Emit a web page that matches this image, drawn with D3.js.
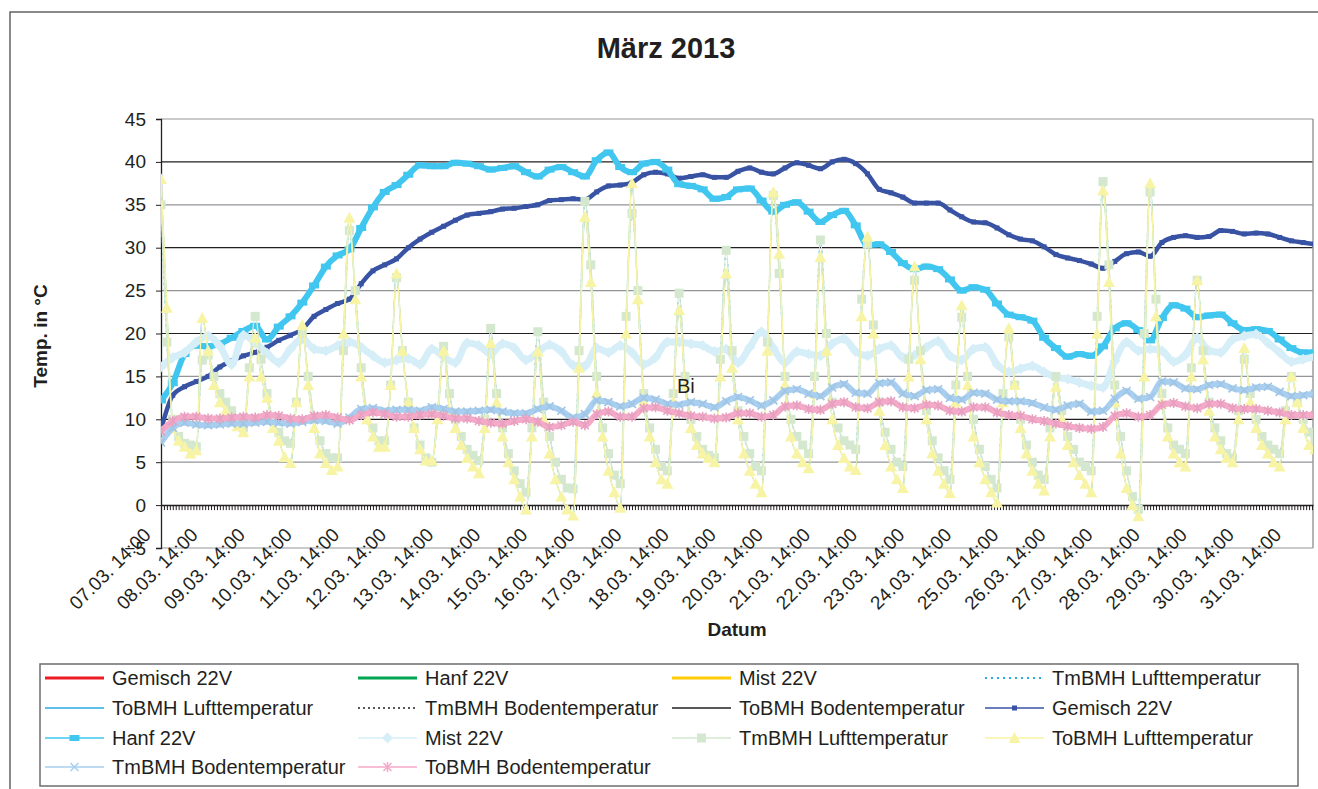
<!DOCTYPE html>
<html><head><meta charset="utf-8">
<script src="https://cdn.jsdelivr.net/npm/d3@7"></script>
<style>
body{margin:0;background:#fff}
svg{display:block}
text{font-family:"Liberation Sans",Arial,sans-serif;fill:#231f20}
</style>
</head><body>
<svg id="c" width="1318" height="789"></svg>
<script>
// ---------- data ----------
const chartTitle = "März 2013";
const dayLabels = ["07.03. 14:00","08.03. 14:00","09.03. 14:00","10.03. 14:00","11.03. 14:00","12.03. 14:00","13.03. 14:00","14.03. 14:00","15.03. 14:00","16.03. 14:00","17.03. 14:00","18.03. 14:00","19.03. 14:00","20.03. 14:00","21.03. 14:00","22.03. 14:00","23.03. 14:00","24.03. 14:00","25.03. 14:00","26.03. 14:00","27.03. 14:00","28.03. 14:00","29.03. 14:00","30.03. 14:00","31.03. 14:00"];
const yTicks = [-5,0,5,10,15,20,25,30,35,40,45];
const hoursPerDay = 24;
const spanHours = 587;          // 07.03. 14:00 to ~01.04. 01:00
const minorTickHours = 1.5;     // sampling interval of the logger
const smoothStepHours = 6;      // interval of the values read below
const airStepHours = 3;

// 6-hourly readings from 07.03. 14:00
const gemisch = [8.8,12.8,13.8,14.4, 15.0,16.1,16.8,17.4, 17.8,18.4,19.2,19.8, 20.5,22.0,22.8,23.5,
 24.0,25.8,27.3,28.0, 28.7,30.0,31.0,31.8, 32.5,33.2,33.8,34.0, 34.2,34.5,34.6,34.8,
 35.0,35.5,35.6,35.7, 35.6,36.5,37.2,37.3, 37.6,38.5,38.8,38.6, 38.1,38.3,38.5,38.2,
 38.2,38.9,39.3,38.8, 38.6,39.3,39.9,39.6, 39.2,40.0,40.3,39.8, 38.6,36.8,36.4,35.9,
 35.2,35.2,35.2,34.4, 33.6,33.0,32.9,32.3, 31.5,31.0,30.8,30.1, 29.2,28.8,28.5,28.1,
 27.6,28.4,29.3,29.5, 29.0,30.6,31.2,31.4, 31.2,31.3,32.0,31.9, 31.6,31.7,31.6,31.2,
 30.8,30.6,30.4];
const hanf = [12.2,14.2,17.6,18.6, 18.5,18.8,19.5,20.3, 20.9,19.3,20.8,22.0, 23.6,25.6,27.8,29.1,
 29.8,32.3,34.7,36.5, 37.3,38.5,39.6,39.5, 39.5,39.9,39.8,39.5, 39.1,39.3,39.5,38.8,
 38.3,39.1,39.4,38.8, 38.3,40.2,41.1,39.4, 38.8,39.8,40.0,39.1, 37.4,37.2,36.8,35.7,
 35.9,36.8,36.9,35.5, 34.2,35.0,35.3,34.2, 33.0,33.8,34.3,32.6, 30.3,30.4,29.5,28.2,
 27.5,27.8,27.5,26.3, 25.0,25.4,25.1,23.5, 22.2,21.9,21.5,19.5, 18.3,17.3,17.6,17.4,
 18.5,20.6,21.2,20.4, 19.2,21.8,23.3,22.9, 21.9,22.1,22.2,21.2, 20.4,20.5,20.3,19.3,
 18.3,17.8,17.8];
const mist = [16.1,17.2,17.8,19.0, 19.7,18.5,16.4,19.8, 18.9,17.7,16.6,18.2, 19.4,18.2,18.0,18.6,
 19.0,18.4,17.4,16.6, 16.9,17.1,16.4,18.2, 17.3,16.6,18.9,18.6, 17.6,18.8,18.3,16.9,
 17.8,18.7,17.9,16.3, 16.2,18.3,17.8,18.6, 17.8,16.4,17.2,19.0, 19.0,18.8,18.6,17.9,
 18.2,16.6,18.4,20.2, 18.3,16.6,17.9,17.6, 17.4,18.8,19.4,17.9, 17.4,18.2,18.6,17.2,
 17.5,18.4,19.1,17.4, 16.9,18.2,18.4,16.4, 15.5,15.9,16.2,15.5, 14.9,14.7,14.3,13.9,
 13.7,16.8,19.0,18.0, 18.2,18.0,16.7,17.5, 19.5,18.0,17.8,19.3, 19.7,19.9,18.9,17.8,
 16.7,17.0,17.3];
const tmBoden = [7.3,9.0,9.6,9.4, 9.3,9.4,9.5,9.5, 9.6,9.7,9.6,9.5, 9.7,9.9,9.8,9.5,
 10.2,11.2,11.3,11.0, 11.1,11.1,11.0,11.4, 11.2,10.9,10.9,11.0, 11.1,10.9,10.7,10.7,
 11.2,11.5,11.0,10.2, 10.6,12.2,12.0,11.5, 11.8,12.5,12.3,11.8, 11.7,12.0,11.8,11.4,
 12.1,12.6,12.2,11.6, 12.2,13.3,13.5,13.0, 12.7,13.7,14.1,13.1, 13.0,14.2,14.3,13.0,
 12.7,13.4,13.5,12.5, 12.3,13.1,13.0,12.3, 12.1,12.1,11.9,11.4, 11.1,11.6,11.8,10.9,
 11.0,12.4,13.3,12.4, 12.6,14.4,14.3,13.6, 13.5,14.0,14.1,13.6, 13.4,13.7,13.8,13.2,
 12.7,12.8,13.0];
const toBoden = [8.6,9.8,10.3,10.3, 10.1,10.1,10.2,10.3, 10.2,10.5,10.4,10.1, 10.0,10.4,10.5,10.2,
 9.9,10.5,10.8,10.6, 10.3,10.3,10.5,10.6, 10.4,10.1,10.1,9.8, 9.6,9.5,9.8,10.0,
 9.7,9.1,9.3,9.7, 9.3,10.6,10.9,10.3, 10.3,11.3,11.4,11.0, 10.7,10.4,10.3,10.1,
 10.2,10.7,10.7,10.3, 10.5,11.5,11.6,11.2, 11.1,11.8,12.0,11.4, 11.3,12.0,12.1,11.4,
 11.3,11.7,11.6,11.0, 10.9,11.4,11.4,10.8, 10.5,10.4,10.0,9.8, 9.5,9.2,9.0,8.9,
 9.1,10.4,10.7,10.3, 10.5,11.7,11.9,11.5, 11.3,11.8,11.8,11.3, 11.2,11.2,11.0,10.8,
 10.5,10.5,10.5];
// 3-hourly readings from 07.03. 14:00
const tmLuft = [35,19,10,8,7.2,7.0,6.8,16.9, 17.5,15,13,12,11,10,9,16, 22,17,13,10,8.5,7.5,7.2,12,
 20,15,10,7.5,6,5.5,5.5,18, 32,25,16,11,9,7.5,7.5,14, 26.5,18,12,9,7,5.5,5,11,
 18.5,13,10,8,6.5,5.8,5.2,10, 20.6,13,9,6,4,2.5,1.5,9, 20.2,12,8,5,3,2,1.9,18,
 35.4,28,15,9,6,3.5,2.5,22, 34,25,13,9,6.5,4.5,4,13, 24.7,15,10,8,6.5,5.8,5.5,17,
 29.7,18,11,8,6,4.5,4,19, 36.1,27,15,10,8,7,6,15, 30.9,20,12,9,7.5,7,6.5,24,
 30.5,21,12,8.5,6.5,5,4.5,17, 26.2,18,11,7.5,5.5,4,3,14, 21.9,15,10,6.5,4.5,3,2,13,
 19.6,14,10,7,5,3.5,3,9, 15,11,8,6.5,5,4.5,4,22, 37.7,28,14,8,4,1,-0.5,20,
 36.5,24,13,9,7,6.5,6,16, 26.2,18,12,9,7.5,6,5.5,11, 17,13,10,8,7,6.5,6,11,
 15,12,10,8.5,7.5];
const toLuft = [38,23,9,7.5,6.8,6.0,6.4,21.8, 18,14,12,11,10,9.2,8.5,15, 19.5,15,12.5,9,7.5,5.6,4.9,12,
 21,14,9,6,4.9,4.1,4.5,20, 33.5,24,15,10,8,6.8,6.8,14, 27,18,12,9,6.5,5.2,5.2,10,
 18,11,9,7,5.5,4.5,3.7,9, 18.9,12,8,5,3,1,-0.5,8, 17.9,10,6,3,1,-0.5,-1.2,16,
 33.6,26,13,8,4,1.5,-0.3,20, 37.5,24,12,8,5,3,2.5,12, 22.7,14,9,7,6,5.5,5,15,
 27,16,10,6,4,2.5,1.5,18, 36.5,29.3,14,8,6,5,4.3,13, 28.9,18,10,7,5.5,4.5,4.1,22,
 31.3,20,11,7,4.5,3,2,15, 27.8,17,10,6,4,2.5,1.4,12, 23.3,14,8,5,3,1.5,0.3,12,
 20.6,14,9,6,4,2.5,1.7,8, 13.8,10,7,5,3.5,2.5,1.5,20, 36.7,26,12,6,2,0,-1.3,15,
 37.5,22,12,8,6,5,4.5,15, 26.2,17,11,8,6.5,5.5,5,10, 18.3,12,9,7,6,5,4.5,10,
 15,12,9,7,6.5];

// ---------- layout ----------
const svg = d3.select("#c");
const P = {l:161, r:1313, t:119, b:548};
const x = d3.scaleLinear().domain([0, spanHours]).range([P.l, P.r]);
const y = d3.scaleLinear().domain([-5, 45]).range([P.b, P.t]);

// outer chart frame
svg.append("rect").attr("x",10).attr("y",12).attr("width",1340).attr("height",820)
  .attr("fill","none").attr("stroke","#58595b").attr("stroke-width",1.4);

// title
svg.append("text").attr("x",666).attr("y",58).attr("text-anchor","middle")
  .attr("font-size",29).attr("font-weight","bold").text(chartTitle);

// grid lines
const grid = svg.append("g");
yTicks.filter(v => v !== 0).forEach(v => {
  grid.append("line").attr("x1",P.l).attr("x2",P.r).attr("y1",y(v)).attr("y2",y(v))
    .attr("stroke", (v % 10 === 0) ? "#231f20" : "#939598").attr("stroke-width",1.2);
});
grid.append("line").attr("x1",P.r).attr("x2",P.r).attr("y1",P.t).attr("y2",P.b)
  .attr("stroke","#939598").attr("stroke-width",1.4);

// y axis
const yAxis = svg.append("g").attr("transform",`translate(${P.l},0)`)
  .call(d3.axisLeft(y).tickValues(yTicks).tickSize(5).tickPadding(10).tickFormat(d3.format("d")));
yAxis.select(".domain").attr("stroke","#231f20").attr("stroke-width",1.3);
yAxis.selectAll(".tick line").attr("stroke","#231f20");
yAxis.selectAll(".tick text").attr("font-size",19).attr("fill","#231f20")
  .attr("font-family",'"Liberation Sans",Arial,sans-serif');

// x axis at 0 with dense minor ticks
const minorTicks = d3.range(0, spanHours, minorTickHours);
const xAxis = svg.append("g").attr("transform",`translate(0,${y(0)})`)
  .call(d3.axisBottom(x).tickValues(minorTicks).tickSize(5).tickSizeOuter(0).tickFormat(""));
xAxis.select(".domain").attr("stroke","#231f20").attr("stroke-width",1.5);
xAxis.selectAll(".tick line").attr("stroke","#231f20").attr("stroke-width",1);

// rotated day labels
const xl = svg.append("g");
dayLabels.forEach((lab,i) => {
  xl.append("text")
    .attr("transform",`translate(${x(i*hoursPerDay)-9},536) rotate(-45)`)
    .attr("text-anchor","end").attr("font-size",19).text(lab);
});

// axis titles
svg.append("text").attr("x",737).attr("y",636).attr("text-anchor","middle")
  .attr("font-size",19).attr("font-weight","bold").text("Datum");
svg.append("text").attr("transform","translate(47,336) rotate(-90)").attr("text-anchor","middle")
  .attr("font-size",19).attr("font-weight","bold").text("Temp. in °C");

// ---------- series ----------
svg.append("clipPath").attr("id","clip").append("rect")
  .attr("x",P.l).attr("y",P.t-6).attr("width",P.r-P.l).attr("height",P.b-P.t+6);
const plot = svg.append("g").attr("clip-path","url(#clip)");

function markerPath(type){
  switch(type){
    case "square": return "M-2.5,-2.5h5v5h-5z";
    case "dash": return "M-5,-3h10v6h-10z";
    case "diamond": return "M0,-5.5L5.5,0L0,5.5L-5.5,0Z";
    case "sq": return "M-4.5,-4.5h9v9h-9z";
    case "tri": return "M0,-6L6,5L-6,5Z";
    case "x": return "M-4,-4L4,4M-4,4L4,-4";
    case "ast": return "M-4,-4L4,4M-4,4L4,-4M0,-5V5";
  }
}
const strokeMarkers = new Set(["x","ast"]);

const series = [
  {name:"Gemisch 22V", data:gemisch, step:smoothStepHours, color:"#ed1c24", w:2.5, lw:3},
  {name:"Hanf 22V", data:hanf, step:smoothStepHours, color:"#00a651", w:2.5, lw:3},
  {name:"Mist 22V", data:mist, step:smoothStepHours, color:"#ffcb05", w:2.5, lw:3},
  {name:"TmBMH Lufttemperatur", data:tmLuft, step:airStepHours, color:"#29abe2", w:1.2, lw:2, dash:"2,4"},
  {name:"ToBMH Lufttemperatur", data:toLuft, step:airStepHours, color:"#29abe2", w:1, lw:1.5},
  {name:"TmBMH Bodentemperatur", data:tmBoden, step:smoothStepHours, color:"#231f20", w:1, lw:1.3, dash:"2,3"},
  {name:"ToBMH Bodentemperatur", data:toBoden, step:smoothStepHours, color:"#231f20", w:1, lw:1.5},
  {name:"Gemisch 22V", data:gemisch, step:smoothStepHours, color:"#3953a4", w:4.5, lw:1.5, marker:"square"},
  {name:"Hanf 22V", data:hanf, step:smoothStepHours, color:"#41c6ef", w:6, lw:1.5, marker:"dash"},
  {name:"Mist 22V", data:mist, step:smoothStepHours, color:"#d6eef8", w:7, lw:1.5, marker:"diamond"},
  {name:"TmBMH Lufttemperatur", data:tmLuft, step:airStepHours, color:"#d3e8cf", w:1.5, lw:1.5, marker:"sq"},
  {name:"ToBMH Lufttemperatur", data:toLuft, step:airStepHours, color:"#f8f4a6", w:1.5, lw:1.5, marker:"tri"},
  {name:"TmBMH Bodentemperatur", data:tmBoden, step:smoothStepHours, color:"#a9cff0", w:6, lw:1.5, marker:"x"},
  {name:"ToBMH Bodentemperatur", data:toBoden, step:smoothStepHours, color:"#f4a9c9", w:6, lw:1.5, marker:"ast"}
];

series.forEach(s => {
  const pts = s.data.map((v,i) => [i*s.step, v]);
  const line = d3.line().x(d => x(d[0])).y(d => y(d[1])).curve(d3.curveMonotoneX);
  const g = plot.append("g");
  g.append("path").attr("d", line(pts)).attr("fill","none").attr("stroke",s.color)
    .attr("stroke-width",s.w).attr("stroke-linejoin","round").attr("stroke-dasharray",s.dash||null);
  if (s.marker) {
    const isStroke = strokeMarkers.has(s.marker);
    g.selectAll("path.m").data(pts).join("path").attr("class","m")
      .attr("transform", d => `translate(${x(d[0])},${y(d[1])})`)
      .attr("d", markerPath(s.marker))
      .attr("fill", isStroke ? "none" : s.color)
      .attr("stroke", isStroke ? d3.color(s.color).darker(0.15) : "none")
      .attr("stroke-width", 1.6);
  }
});

// stray label inside the plot
svg.append("text").attr("x",677).attr("y",393).attr("font-size",20).text("Bi");

// ---------- legend ----------
const lg = svg.append("g");
lg.append("rect").attr("x",40).attr("y",664).attr("width",1258).attr("height",122)
  .attr("fill","#fff").attr("stroke","#6d6e71").attr("stroke-width",1.5);
const colX = [45, 358, 672, 985];
const rowY = [678, 708, 738, 767];
const lineLen = 59;
series.forEach((s,i) => {
  const cx = colX[i % 4], cy = rowY[Math.floor(i / 4)];
  lg.append("line").attr("x1",cx).attr("x2",cx+lineLen).attr("y1",cy).attr("y2",cy)
    .attr("stroke",s.color).attr("stroke-width",s.lw).attr("stroke-dasharray",s.dash||null);
  if (s.marker) {
    const isStroke = strokeMarkers.has(s.marker);
    lg.append("path").attr("transform",`translate(${cx+lineLen/2},${cy})`).attr("d",markerPath(s.marker))
      .attr("fill", isStroke ? "none" : s.color)
      .attr("stroke", isStroke ? s.color : "none").attr("stroke-width",1.5);
  }
  lg.append("text").attr("x",cx+67).attr("y",cy+7).attr("font-size",20).text(s.name);
});
</script>
</body></html>
